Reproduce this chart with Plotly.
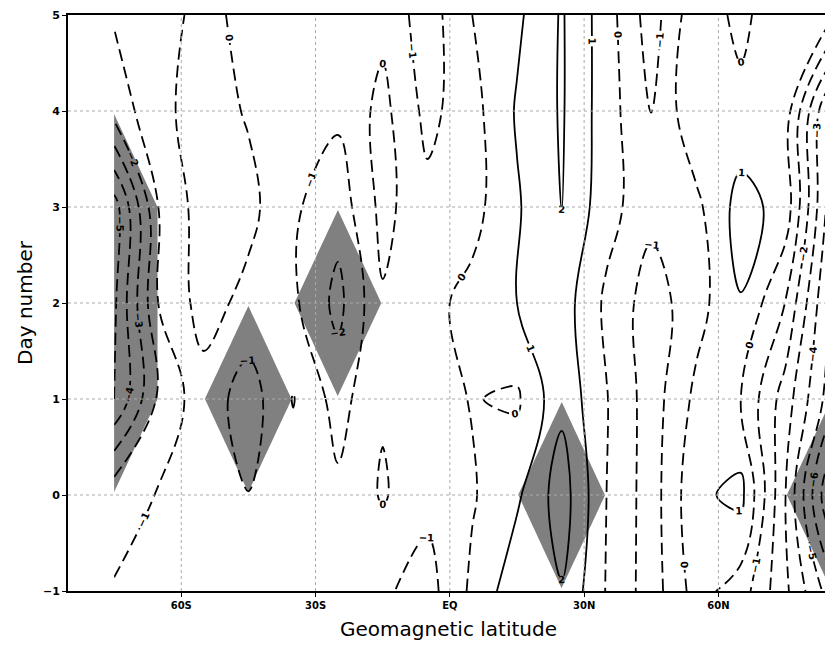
import plotly.graph_objects as go

# Grid (geomagnetic latitude, degrees; day number)
lat = [-75, -65, -55, -45, -35, -25, -15, -5, 5, 15, 25, 35, 45, 55, 65, 75, 85]
day = [-1, 0, 1, 2, 3, 4, 5]

# Field values (one list per day)
val_dm1 = [-0.95, -0.5, -0.5, -0.6, -0.6, -0.6, -0.85, -1.4, 0.2, 1.65, 1.94, -0.06, -1.5, 0.4, -0.5, -2.8, -5.5]
val_d0 = [-1.3, -0.95, -0.6, -0.98, -0.5, -0.8, 0.1, -0.7, -0.1, 0.83, 2.5, 0.0, -1.5, 0.75, 1.3, -3.0, -8.0]
val_d1 = [-5.0, -1.8, -0.4, -1.5, 0.05, -1.4, -0.1, -0.4, 0.05, -0.15, 1.75, 0.05, -1.5, 0.24, 0.0, -2.5, -5.5]
val_d2 = [-5.2, -0.95, 0.4, -0.3, -0.8, -2.3, -0.1, -0.3, 0.3, 1.0, 1.5, -0.2, -1.5, -0.4, 0.95, -1.04, -5.2]
val_d3 = [-5.5, -0.95, 0.5, 0.3, -0.85, -1.6, 0.3, -0.7, -0.35, 0.89, 2.02, 0.39, -0.7, -0.25, 1.4, 0.6, -4.5]
val_d4 = [-1.6, -0.3, 0.5, -0.1, -0.6, -0.8, 0.3, -1.3, -0.36, 1.1, 2.1, 0.46, -1.02, 0.77, 0.3, 0.5, -4.2]
val_d5 = [-0.9, -0.4, 0.3, -0.3, -0.5, -0.5, -0.3, -1.5, 0.0, 0.8, 2.1, 0.46, -1.5, 0.7, -0.3, 0.9, 0.3]

# Significance flags (1 = significant)
sig_dm1 = [0, 0, 0, 0, 0, 0, 0, 0, 0, 0, 0, 0, 0, 0, 0, 0, 0]
sig_d0 = [0, 0, 0, 0, 0, 0, 0, 0, 0, 0, 1, 0, 0, 0, 0, 0, 1]
sig_d1 = [1, 0, 0, 1, 0, 0, 0, 0, 0, 0, 0, 0, 0, 0, 0, 0, 0]
sig_d2 = [1, 0, 0, 0, 0, 1, 0, 0, 0, 0, 0, 0, 0, 0, 0, 0, 0]
sig_d3 = [1, 0, 0, 0, 0, 0, 0, 0, 0, 0, 0, 0, 0, 0, 0, 0, 0]
sig_d4 = [0, 0, 0, 0, 0, 0, 0, 0, 0, 0, 0, 0, 0, 0, 0, 0, 0]
sig_d5 = [0, 0, 0, 0, 0, 0, 0, 0, 0, 0, 0, 0, 0, 0, 0, 0, 0]

tick_vals = [-60, -30, 0, 30, 60]
tick_text = ["60S", "30S", "EQ", "30N", "60N"]
day_grid = [0, 1, 2, 3, 4]

z = [val_dm1, val_d0, val_d1, val_d2, val_d3, val_d4, val_d5]
sig = [sig_dm1, sig_d0, sig_d1, sig_d2, sig_d3, sig_d4, sig_d5]

FONT = "DejaVu Sans"
GRID = dict(color="rgb(170,170,170)", width=1, dash="dot")
LABEL_FONT = dict(family=FONT, size=10, color="black", weight="bold")

fig = go.Figure()

fig.add_trace(go.Contour(
    x=lat, y=day, z=sig,
    contours=dict(type="constraint", operation="<", value=0.03),
    fillcolor="rgb(128,128,128)",
    line=dict(width=0, smoothing=0),
    showscale=False, hoverinfo="skip",
))

fig.add_trace(go.Contour(
    x=lat, y=day, z=z,
    autocontour=False,
    contours=dict(start=-8, end=0, size=1, coloring="none", showlabels=True,
                  labelfont=LABEL_FONT),
    line=dict(color="black", width=1.8, dash="12px,6px", smoothing=1.1),
    showscale=False, hoverinfo="skip",
))

fig.add_trace(go.Contour(
    x=lat, y=day, z=z,
    autocontour=False,
    contours=dict(start=1, end=3, size=1, coloring="none", showlabels=True,
                  labelfont=LABEL_FONT),
    line=dict(color="black", width=1.8, smoothing=1.1),
    showscale=False, hoverinfo="skip",
))

# dotted grid drawn above the shading, at the tick positions
shapes = []
for tv in tick_vals:
    shapes.append(dict(type="line", xref="x", yref="paper", x0=tv, x1=tv, y0=0, y1=1,
                       line=GRID, layer="above"))
for dv in day_grid:
    shapes.append(dict(type="line", xref="paper", yref="y", x0=0, x1=1, y0=dv, y1=dv,
                       line=GRID, layer="above"))

fig.update_layout(
    width=833, height=656,
    margin=dict(l=60, r=12, t=7, b=73),
    paper_bgcolor="white", plot_bgcolor="white",
    showlegend=False,
    font=dict(family=FONT, color="black"),
    shapes=shapes,
)

fig.update_xaxes(
    range=[-85.3, 84.7], automargin=False,
    tickvals=tick_vals, ticktext=tick_text,
    tickfont=dict(family=FONT, size=10, weight="bold"),
    ticks="outside", ticklen=4, tickcolor="black",
    showline=True, linecolor="black", linewidth=2, mirror=True,
    showgrid=False, zeroline=False,
    title=dict(text="Geomagnetic latitude", font=dict(family=FONT, size=20), standoff=12),
)
fig.update_yaxes(
    range=[-1, 5], dtick=1, automargin=False,
    tickfont=dict(family=FONT, size=11, weight="bold"),
    ticks="outside", ticklen=4, tickcolor="black",
    showline=True, linecolor="black", linewidth=2, mirror=True,
    showgrid=False, zeroline=False,
    title=dict(text="Day number", font=dict(family=FONT, size=20), standoff=5),
)

fig.write_html("out.html")
